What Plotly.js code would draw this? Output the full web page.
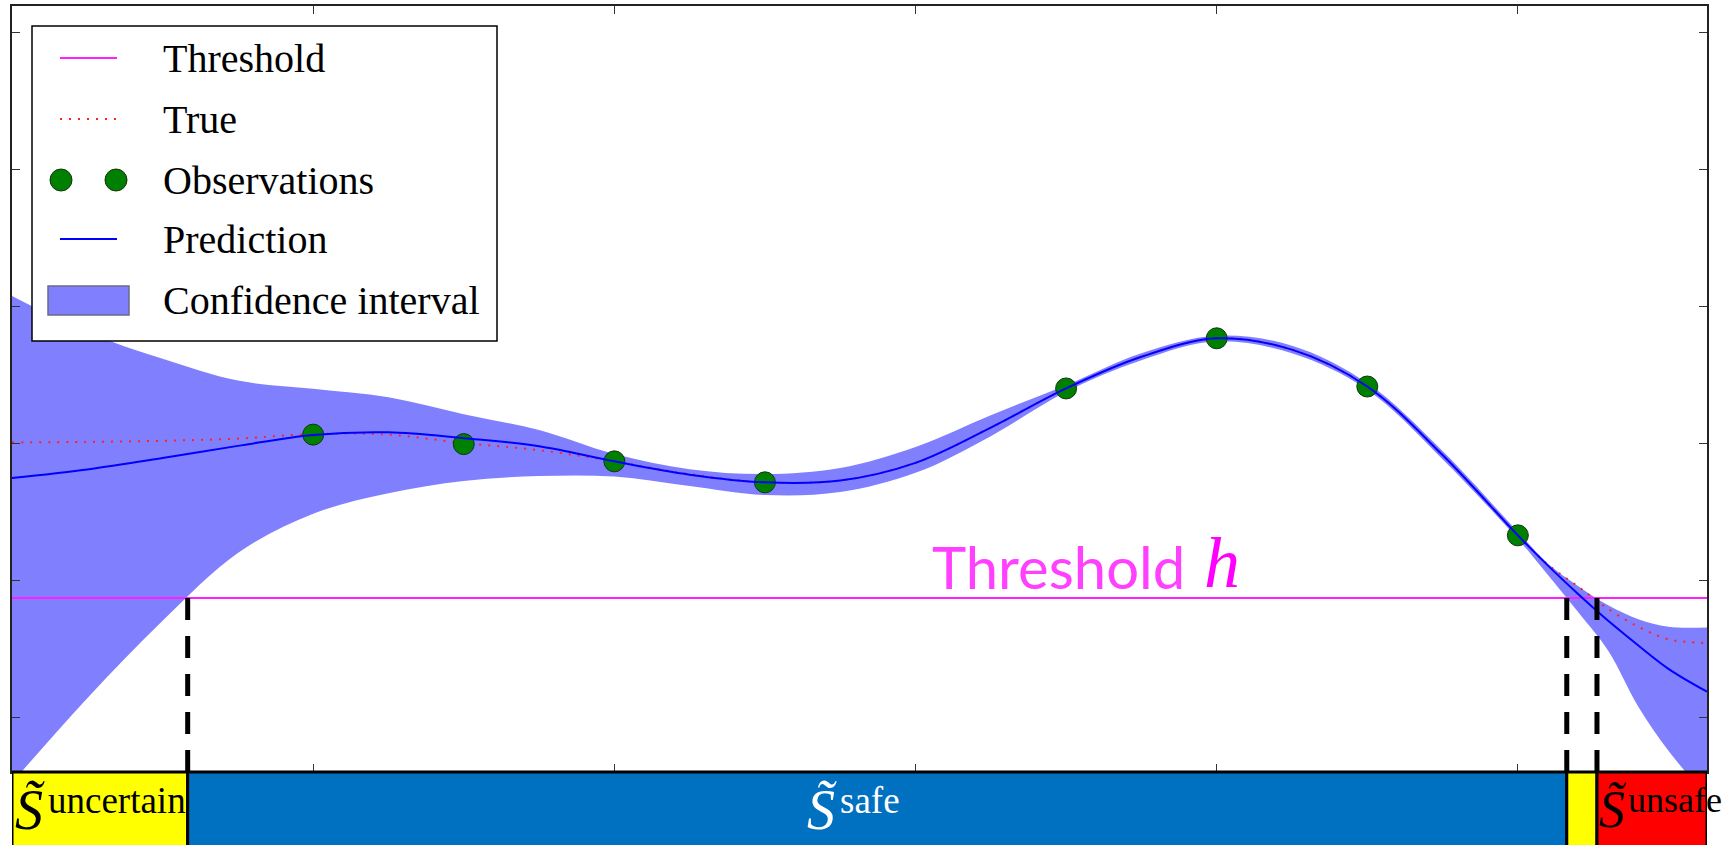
<!DOCTYPE html>
<html>
<head>
<meta charset="utf-8">
<script src="https://cdn.plot.ly/plotly-3.0.1.min.js"></script>
<style>
html,body{margin:0;padding:0;background:#ffffff;}
#chart{width:1730px;height:845px;}
</style>
</head>
<body>
<div id="chart"></div>
<script>
// ---------------- data ----------------
const xGrid      = [0, 0.25, 0.5, 0.75, 1, 1.25, 1.5, 1.75, 2, 2.25, 2.5, 2.75, 3, 3.25, 3.5, 3.75, 4, 4.25, 4.5, 4.75, 5, 5.1, 5.2, 5.3, 5.4, 5.5, 5.628];
const predMean   = [1.745, 1.808, 1.891, 1.980, 2.060, 2.079, 2.036, 1.978, 1.867, 1.770, 1.714, 1.727, 1.856, 2.113, 2.399, 2.630, 2.765, 2.682, 2.413, 1.913, 1.327, 1.106, 0.899, 0.703, 0.523, 0.353, 0.186];
const trueVals   = [2.005, 2.009, 2.017, 2.033, 2.066, 2.062, 2.000, 1.949, 1.867, 1.774, 1.714, 1.727, 1.856, 2.113, 2.399, 2.630, 2.765, 2.682, 2.413, 1.913, 1.327, 1.113, 0.953, 0.790, 0.660, 0.569, 0.541];
const upperBound = [3.074, 2.810, 2.616, 2.457, 2.397, 2.335, 2.211, 2.095, 1.920, 1.810, 1.774, 1.818, 1.972, 2.204, 2.423, 2.656, 2.784, 2.711, 2.438, 1.942, 1.352, 1.120, 0.958, 0.816, 0.715, 0.660, 0.655];
const lowerBound = [-0.478, 0.139, 0.704, 1.199, 1.485, 1.634, 1.723, 1.760, 1.756, 1.687, 1.621, 1.643, 1.783, 2.051, 2.375, 2.605, 2.743, 2.656, 2.390, 1.883, 1.300, 1.038, 0.767, 0.484, 0.076, -0.245, -0.580];
const obsX       = [1, 1.5, 2, 2.5, 3.5, 4, 4.5, 5];
const obsY       = [2.062, 1.993, 1.867, 1.714, 2.399, 2.765, 2.413, 1.327];
const thresholdH = 0.869;
const legendLabels = ['Threshold', 'True', 'Observations', 'Prediction', 'Confidence interval'];
const regionNames  = ['uncertain', 'safe', '', 'unsafe'];
const thresholdLabel = 'Threshold';
const thresholdSymbol = 'h';

// ---------------- layout helpers (styling only) ----------------
const W = 1730, H = 845;
const M = {l: 12, r: 23, t: 6, b: 73};
const plotW = W - M.l - M.r, plotH = H - M.t - M.b;
const px = v => (v - M.l) / plotW;          // pixel x -> paper
const py = v => (H - M.b - v) / plotH;      // pixel y -> paper
const xRange = [xGrid[0], xGrid[xGrid.length - 1]];
const yRange = [-0.40, 5.19];

// where a bound crosses the threshold (linear between samples)
function crossing(ys, h, startIdx, endIdx) {
  const step = startIdx <= endIdx ? 1 : -1;
  for (let i = startIdx; i !== endIdx; i += step) {
    const j = i + step;
    const a = ys[i] - h, b = ys[j] - h;
    if (a === 0) return xGrid[i];
    if (a * b < 0) {
      const t = a / (a - b);
      return xGrid[i] + t * (xGrid[j] - xGrid[i]);
    }
  }
  return null;
}
const last = xGrid.length - 1;
const xSafeStart   = crossing(lowerBound, thresholdH, 0, last);      // lower rises above h
const xSafeEnd     = crossing(lowerBound, thresholdH, last, 0);      // lower falls below h
const xUnsafeStart = crossing(upperBound, thresholdH, last, 0);      // upper falls below h

const SERIF = '"Liberation Serif", "Times New Roman", serif';
const SMOOTH = 1.0;

// ---------------- traces ----------------
const traces = [
  {x: xGrid, y: lowerBound, mode: 'lines', line: {width: 0, shape: 'spline', smoothing: SMOOTH},
   hoverinfo: 'skip', showlegend: false},
  {x: xGrid, y: upperBound, mode: 'lines', line: {width: 0, shape: 'spline', smoothing: SMOOTH},
   fill: 'tonexty', fillcolor: '#8080ff', name: legendLabels[4], showlegend: false},
  {x: xRange, y: [thresholdH, thresholdH], mode: 'lines', line: {color: '#ff20ff', width: 2},
   name: legendLabels[0], showlegend: false},
  {x: xGrid, y: trueVals, mode: 'lines', line: {color: '#ff2020', width: 2, dash: '2px,7px', shape: 'spline', smoothing: SMOOTH},
   name: legendLabels[1], showlegend: false},
  {x: obsX, y: obsY, mode: 'markers', marker: {color: '#008000', size: 21, line: {color: '#113311', width: 1}},
   name: legendLabels[2], showlegend: false},
  {x: xGrid, y: predMean, mode: 'lines', line: {color: '#0000ff', width: 2, shape: 'spline', smoothing: SMOOTH},
   name: legendLabels[3], showlegend: false}
];

// ---------------- shapes ----------------
const shapes = [];
// dashed region boundaries
[xSafeStart, xSafeEnd, xUnsafeStart].forEach(xc => {
  shapes.push({type: 'line', xref: 'x', yref: 'y', x0: xc, x1: xc, y0: thresholdH, y1: yRange[0],
    line: {color: '#000000', width: 5, dash: '22px,16px'}});
});
// region bar under the axes
const regions = [
  {x0: xRange[0], x1: xSafeStart, color: '#ffff00'},
  {x0: xSafeStart, x1: xSafeEnd, color: '#0070c0'},
  {x0: xSafeEnd, x1: xUnsafeStart, color: '#ffff00'},
  {x0: xUnsafeStart, x1: xRange[1], color: '#ff0000'}
];
regions.forEach(r => {
  shapes.push({type: 'rect', xref: 'x', yref: 'paper', x0: r.x0, x1: r.x1, y0: 0, y1: -0.14,
    fillcolor: r.color, line: {color: '#000000', width: 3}, layer: 'above'});
});
// hand-drawn legend (matplotlib style)
shapes.push({type: 'rect', xref: 'paper', yref: 'paper', x0: px(32), x1: px(497), y0: py(26), y1: py(341),
  fillcolor: '#ffffff', line: {color: '#000000', width: 1.5}, layer: 'above'});
const rowY = [58, 119, 180, 239, 300];
shapes.push({type: 'line', xref: 'paper', yref: 'paper', x0: px(60), x1: px(117), y0: py(rowY[0]), y1: py(rowY[0]),
  line: {color: '#ff20ff', width: 2}, layer: 'above'});
shapes.push({type: 'line', xref: 'paper', yref: 'paper', x0: px(60), x1: px(117), y0: py(rowY[1]), y1: py(rowY[1]),
  line: {color: '#ff2020', width: 2, dash: '2px,7px'}, layer: 'above'});
[61, 116].forEach(cx => {
  shapes.push({type: 'circle', xref: 'paper', yref: 'paper', x0: px(cx - 11), x1: px(cx + 11),
    y0: py(rowY[2] + 11), y1: py(rowY[2] - 11), fillcolor: '#008000', line: {color: '#113311', width: 1}, layer: 'above'});
});
shapes.push({type: 'line', xref: 'paper', yref: 'paper', x0: px(60), x1: px(117), y0: py(rowY[3]), y1: py(rowY[3]),
  line: {color: '#0000ff', width: 2}, layer: 'above'});
shapes.push({type: 'rect', xref: 'paper', yref: 'paper', x0: px(48), x1: px(129), y0: py(286), y1: py(315),
  fillcolor: '#8080ff', line: {color: '#6a6a8a', width: 1.5}, layer: 'above'});

// ---------------- annotations ----------------
const annotations = [];
legendLabels.forEach((lab, i) => {
  annotations.push({text: lab, xref: 'paper', yref: 'paper', x: px(162), y: py(rowY[i]),
    xanchor: 'left', yanchor: 'middle', showarrow: false, borderpad: 0,
    font: {family: SERIF, size: 40, color: '#000000'}});
});
// "Threshold h"
annotations.push({text: thresholdLabel, xref: 'paper', yref: 'paper', x: px(931), y: py(566),
  xanchor: 'left', yanchor: 'middle', showarrow: false, borderpad: 0,
  font: {family: 'Lato, "Open Sans", sans-serif', size: 58, color: '#ff40ff'}});
annotations.push({text: '<i>' + thresholdSymbol + '</i>', xref: 'paper', yref: 'paper', x: px(1203), y: py(563),
  xanchor: 'left', yanchor: 'middle', showarrow: false, borderpad: 0,
  font: {family: SERIF, size: 72, color: '#ff00ff'}});
// region labels S~ with superscripts
const regionLabelPos = [
  {sx: 14, sSize: 56, wx: 47, wSize: 37, color: '#000000', name: regionNames[0]},
  {sx: 806, sSize: 56, wx: 839, wSize: 37, color: '#ffffff', name: regionNames[1]},
  {sx: 1598, sSize: 52, wx: 1627, wSize: 36, color: '#000000', name: regionNames[3]}
];
regionLabelPos.forEach(p => {
  annotations.push({text: '<i>S\u0303</i>', xref: 'paper', yref: 'paper', x: px(p.sx), y: py(810),
    xanchor: 'left', yanchor: 'middle', showarrow: false, borderpad: 0,
    font: {family: SERIF, size: p.sSize, color: p.color}});
  annotations.push({text: p.name, xref: 'paper', yref: 'paper', x: px(p.wx), y: py(800),
    xanchor: 'left', yanchor: 'middle', showarrow: false, borderpad: 0,
    font: {family: SERIF, size: p.wSize, color: p.color}});
});

const axisCommon = {
  showgrid: false, zeroline: false, showticklabels: false,
  ticks: 'inside', ticklen: 8, tickwidth: 1, tickcolor: '#333333',
  tick0: 0, dtick: 1, showline: true, linecolor: '#222222', linewidth: 2, mirror: 'ticks',
  fixedrange: true
};

const layout = {
  width: W, height: H,
  margin: M,
  paper_bgcolor: '#ffffff', plot_bgcolor: '#ffffff',
  showlegend: false,
  xaxis: Object.assign({}, axisCommon, {range: xRange}),
  yaxis: Object.assign({}, axisCommon, {range: yRange}),
  shapes: shapes,
  annotations: annotations
};

Plotly.newPlot('chart', traces, layout, {staticPlot: true, displayModeBar: false});
</script>
</body>
</html>
